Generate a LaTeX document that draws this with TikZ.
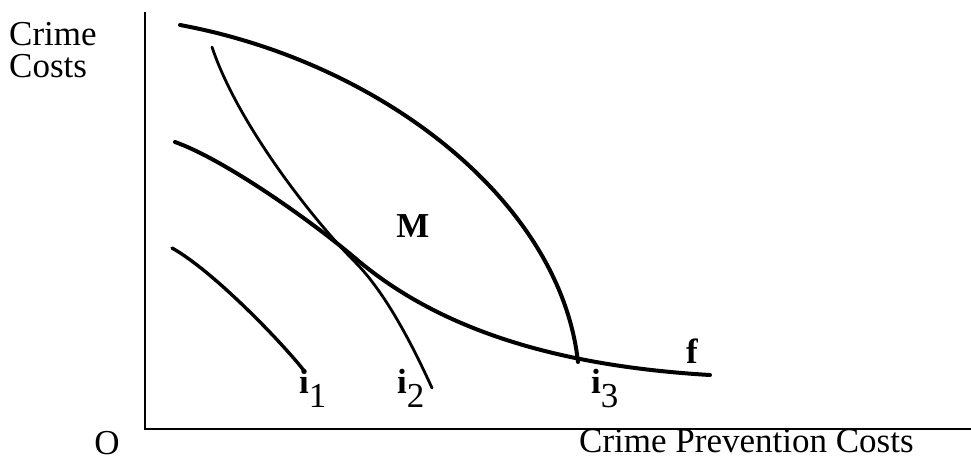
\documentclass[tikz,border=0pt]{standalone}
\usepackage{fontspec}
\setmainfont{Liberation Serif}
\newcommand{\isub}[1]{{\bfseries i}\raisebox{-14pt}{#1}}
\begin{document}
\begin{tikzpicture}[x=1pt,y=-1pt,
  lbl/.style={inner sep=0pt,text depth=0pt,font=\fontsize{35}{40}\selectfont},
  axis/.style={line width=1.5pt},
  thickcurve/.style={line width=4pt,line cap=round},
  midcurve/.style={line width=3.4pt,line cap=round},
  thincurve/.style={line width=2.8pt,line cap=round}]
\useasboundingbox (0,0) rectangle (971,463);
% axes
\coordinate (top) at (145,12);
\coordinate (orig) at (145,429);
\coordinate (right) at (971,429);
\draw[axis] (top) -- (orig) -- (right);
% outer curve M
\coordinate (mS) at (180,25);
\coordinate (mE) at (578,362);
\draw[thickcurve] (mS) .. controls (380,62) and (560,200) .. (mE);
% curve f
\coordinate (fS) at (175,142);
\coordinate (fT) at (355,258);
\coordinate (fE) at (710,375);
\draw[thickcurve] (fS) .. controls (225,160) and (310,220) .. (fT)
  .. controls (430,322) and (540,365) .. (fE);
% curve i2
\coordinate (bS) at (212,47);
\coordinate (bT) at (355,262);
\coordinate (bE) at (432,388);
\draw[thincurve] (bS) .. controls (238,125) and (315,222) .. (bT)
  .. controls (385,292) and (412,344) .. (bE);
% curve i1
\coordinate (aS) at (172,248);
\coordinate (aE) at (305,372);
\draw[midcurve] (aS) .. controls (215,272) and (287,348) .. (aE);
% labels
\node[lbl,anchor=base west] (yl) at (9,45) {Crime};
\node[lbl,anchor=base west] (yl2) at (9,77) {Costs};
\node[lbl,anchor=base] (o) at (107,454) {O};
\node[lbl,anchor=base west] (xl) at (579,452) {Crime Prevention Costs};
\node[lbl,anchor=base] (m) at (413,237) {\bfseries M};
\node[lbl,anchor=base west] (f) at (686,363) {\bfseries f};
\node[lbl,anchor=base west] (i1) at (299,393) {\isub{1}};
\node[lbl,anchor=base west] (i2) at (397,393) {\isub{2}};
\node[lbl,anchor=base west] (i3) at (591,393) {\isub{3}};
\end{tikzpicture}
\end{document}
